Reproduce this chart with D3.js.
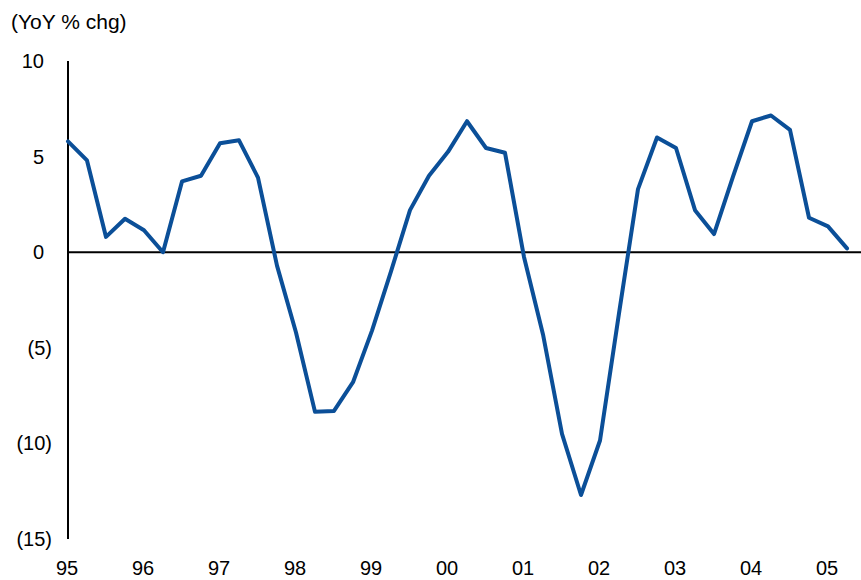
<!DOCTYPE html>
<html>
<head>
<meta charset="utf-8">
<script src="https://cdn.jsdelivr.net/npm/d3@7/dist/d3.min.js"></script>
<style>
  html, body { margin: 0; padding: 0; background: #fff; }
  svg { display: block; font-family: "Liberation Sans", Arial, sans-serif; }
</style>
</head>
<body>
<svg id="chart" width="861" height="580"></svg>
<script>
// Quarterly YoY % change, 1995 Q1 through 2005 Q2
const quarters = d3.range(42);
const values = [
  5.8, 4.8, 0.8, 1.75, 1.15, 0.0, 3.7, 4.0,
  5.7, 5.85, 3.9, -0.7, -4.2, -8.35, -8.3, -6.8,
  -4.1, -1.0, 2.2, 4.0, 5.25, 6.85, 5.45, 5.2,
  -0.25, -4.3, -9.5, -12.7, -9.85, -3.2, 3.3, 6.0,
  5.45, 2.2, 0.95, 3.95, 6.85, 7.15, 6.4, 1.8,
  1.35, 0.2
];
const yearLabels = ["95","96","97","98","99","00","01","02","03","04","05"];
const yTicks = [10, 5, 0, -5, -10, -15];

const svg = d3.select("#chart");
const x = d3.scaleLinear().domain([0, 41]).range([68, 847]);
const y = d3.scaleLinear().domain([-15, 10]).range([539, 61]);
const fs = 20;

// Unit caption
svg.append("text")
  .attr("x", 11).attr("y", 29)
  .attr("font-size", 21).attr("fill", "#000")
  .text("(YoY % chg)");

// Y tick labels: negatives shown in parentheses, digits aligned
const yLab = svg.append("g");
yTicks.forEach(t => {
  yLab.append("text")
    .attr("x", t < 0 ? 52 : 44)
    .attr("y", y(t))
    .attr("dy", "0.35em")
    .attr("text-anchor", "end")
    .attr("font-size", fs)
    .attr("fill", "#000")
    .text(t < 0 ? `(${-t})` : `${t}`);
});

// Year labels at each Q1
const xLab = svg.append("g");
yearLabels.forEach((lab, i) => {
  xLab.append("text")
    .attr("x", x(i * 4) - 1)
    .attr("y", 575)
    .attr("text-anchor", "middle")
    .attr("font-size", fs)
    .attr("fill", "#000")
    .text(lab);
});

// Vertical axis line
svg.append("line")
  .attr("x1", x(0)).attr("x2", x(0))
  .attr("y1", y(10)).attr("y2", y(-15))
  .attr("stroke", "#000").attr("stroke-width", 2);

// Zero line
svg.append("line")
  .attr("x1", x(0)).attr("x2", 861)
  .attr("y1", y(0)).attr("y2", y(0))
  .attr("stroke", "#000").attr("stroke-width", 2);

// Series line
const line = d3.line()
  .x((d, i) => x(quarters[i]))
  .y(d => y(d));

svg.append("path")
  .datum(values)
  .attr("d", line)
  .attr("fill", "none")
  .attr("stroke", "#0b4f98")
  .attr("stroke-width", 4)
  .attr("stroke-linejoin", "round")
  .attr("stroke-linecap", "round");
</script>
</body>
</html>
